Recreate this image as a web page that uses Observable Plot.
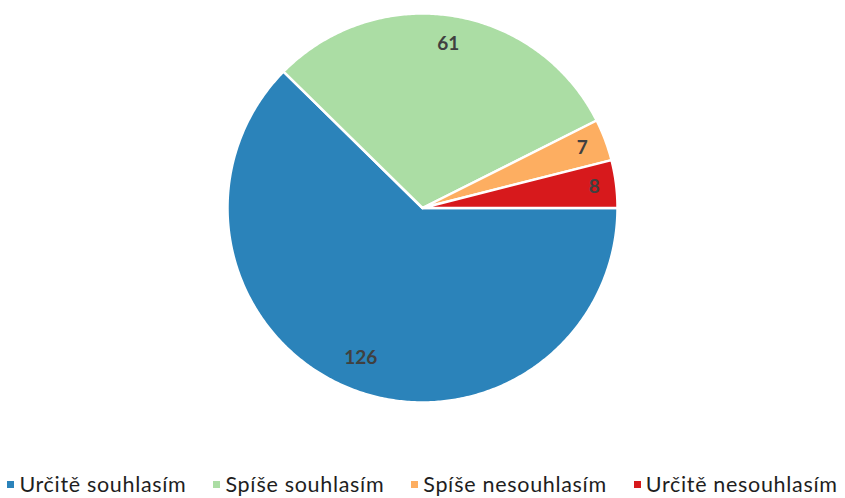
<!DOCTYPE html>
<html>
<head>
<meta charset="utf-8">
<script src="https://cdn.jsdelivr.net/npm/d3@7"></script>
<script src="https://cdn.jsdelivr.net/npm/@observablehq/plot@0.6"></script>
<style>
  html, body { margin: 0; padding: 0; background: #fff; }
  #wrap { width: 845px; height: 498px; position: relative; font-family: Lato, "Open Sans", sans-serif; }
  #legend { display: flex; justify-content: center; align-items: center; gap: 27px; height: 28px; font-size: 21.5px; letter-spacing: 0.68px; color: #1e1e1e; }
  .item { display: flex; align-items: center; white-space: nowrap; }
  .sw { width: 7px; height: 7px; margin-right: 5px; display: inline-block; }
</style>
</head>
<body>
<div id="wrap"></div>
<script>
const categories = ["Určitě souhlasím", "Spíše souhlasím", "Spíše nesouhlasím", "Určitě nesouhlasím"];
const values = [126, 61, 7, 8];
const colors = ["#2b83ba", "#abdda4", "#fdae61", "#d7191c"];

const data = categories.map((key, i) => ({key, value: values[i]}));
const arcs = d3.pie().sort(null).value(d => d.value).startAngle(Math.PI / 2).endAngle(Math.PI / 2 + 2 * Math.PI)(data);

// polygon vertices of each slice (unit circle)
const poly = [];
for (const a of arcs) {
  poly.push({key: a.data.key, x: 0, y: 0});
  const n = Math.max(4, Math.ceil((a.endAngle - a.startAngle) / 0.01));
  for (let k = 0; k <= n; k++) {
    const t = a.startAngle + (a.endAngle - a.startAngle) * k / n;
    poly.push({key: a.data.key, x: Math.sin(t), y: Math.cos(t)});
  }
}

// inside-end label positions
const R = 195;
const labels = arcs.map(a => {
  const t = (a.startAngle + a.endAngle) / 2;
  const s = String(a.data.value);
  const w = s.length * 5.5, h = 12;
  const rr = (R - 15 - (Math.abs(Math.sin(t)) * w + Math.abs(Math.cos(t)) * h)) / R;
  return {text: s, x: rr * Math.sin(t), y: rr * Math.cos(t)};
});

const chart = Plot.plot({
  width: 845,
  height: 470,
  margin: 0,
  x: {domain: [-1, 1], range: [227, 617], axis: null},
  y: {domain: [-1, 1], range: [402, 13], axis: null},
  color: {domain: categories, range: colors},
  marks: [
    Plot.line(poly, {x: "x", y: "y", z: "key", fill: "key", stroke: "white", strokeWidth: 2.5, strokeLinejoin: "round", curve: "linear-closed"}),
    Plot.text(labels, {x: "x", y: "y", text: "text", fill: "#404040", fontWeight: "bold", fontSize: 19, fontFamily: "Lato, 'Open Sans', sans-serif"})
  ]
});

const wrap = document.getElementById("wrap");
wrap.appendChild(chart);
const legend = document.createElement("div");
legend.id = "legend";
categories.forEach((c, i) => {
  const it = document.createElement("span");
  it.className = "item";
  const sw = document.createElement("span");
  sw.className = "sw";
  sw.style.background = colors[i];
  it.appendChild(sw);
  it.appendChild(document.createTextNode(c));
  legend.appendChild(it);
});
wrap.appendChild(legend);
</script>
</body>
</html>
